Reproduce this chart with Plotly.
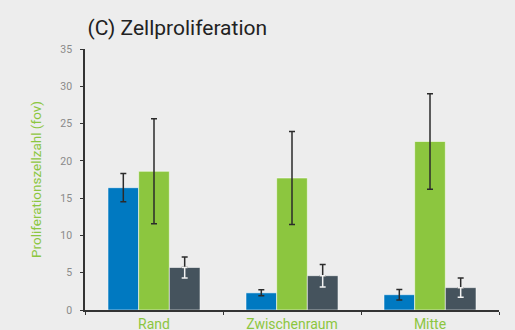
import plotly.graph_objects as go

categories = ["Rand", "Zwischenraum", "Mitte"]

series_a = [16.4, 2.3, 2.05]
series_a_err = [1.9, 0.4, 0.7]

series_b = [18.6, 17.7, 22.6]
series_b_err = [7.05, 6.25, 6.4]

series_c = [5.7, 4.6, 3.0]
series_c_err = [1.4, 1.5, 1.3]

y_ticks = [0, 5, 10, 15, 20, 25, 30, 35]

BLUE = "#0079c1"
GREEN = "#8cc63f"
SLATE = "#45535d"
BG = "#ededed"
ERR = "#2b2b2b"

fig = go.Figure()

edge = dict(color="rgba(255,255,255,0.55)", width=1)

fig.add_trace(go.Bar(
    x=categories, y=series_a, offsetgroup="a", marker=dict(color=BLUE, line=edge),
    error_y=dict(type="data", array=series_a_err, color=ERR, thickness=1.5, width=3),
))
fig.add_trace(go.Bar(
    x=categories, y=series_b, offsetgroup="b", marker=dict(color=GREEN, line=edge),
    error_y=dict(type="data", array=series_b_err, color=ERR, thickness=1.5, width=3),
))
# dark bars: upper whisker dark, lower whisker light over the bar
fig.add_trace(go.Bar(
    x=categories, y=series_c, offsetgroup="c", marker=dict(color=SLATE, line=edge),
    error_y=dict(type="data", symmetric=False, array=series_c_err,
                 arrayminus=[0] * len(series_c), color=ERR, thickness=1.5, width=3),
))
fig.add_trace(go.Bar(
    x=categories, y=series_c, offsetgroup="c",
    marker=dict(color="rgba(0,0,0,0)", line=dict(width=0)),
    error_y=dict(type="data", symmetric=False, array=[0] * len(series_c),
                 arrayminus=series_c_err, color="#f2f2f2", thickness=1.5, width=3),
    hoverinfo="skip",
))

fig.update_layout(
    width=515, height=330,
    margin=dict(l=85, r=16, t=49, b=20),
    paper_bgcolor=BG, plot_bgcolor=BG,
    barmode="group", bargap=0.333, bargroupgap=0,
    showlegend=False,
    font=dict(family="Roboto, sans-serif"),
    title=dict(text="(C) Zellproliferation", x=0.006, xref="paper", xanchor="left",
               y=0.915, yref="container", yanchor="middle",
               font=dict(size=21, color="#222222")),
    xaxis=dict(
        automargin=False,
        showline=True, linecolor="#333333", linewidth=1.5,
        ticks="outside", ticklen=3, tickcolor="#333333", tickson="boundaries",
        tickfont=dict(size=14, color=GREEN), ticklabelstandoff=0, showgrid=False,
    ),
    yaxis=dict(
        automargin=False,
        range=[0, 35], tickvals=y_ticks, showgrid=False, zeroline=False,
        showline=True, linecolor="#333333", linewidth=1.5,
        ticks="outside", ticklen=3, tickcolor="#333333",
        tickfont=dict(size=10.5, color="#8a8a8a"), ticklabelstandoff=6,
        title=dict(text="Proliferationszellzahl (fov)", standoff=16,
                   font=dict(size=13.5, color=GREEN)),
    ),
)

fig.write_html("out.html")
